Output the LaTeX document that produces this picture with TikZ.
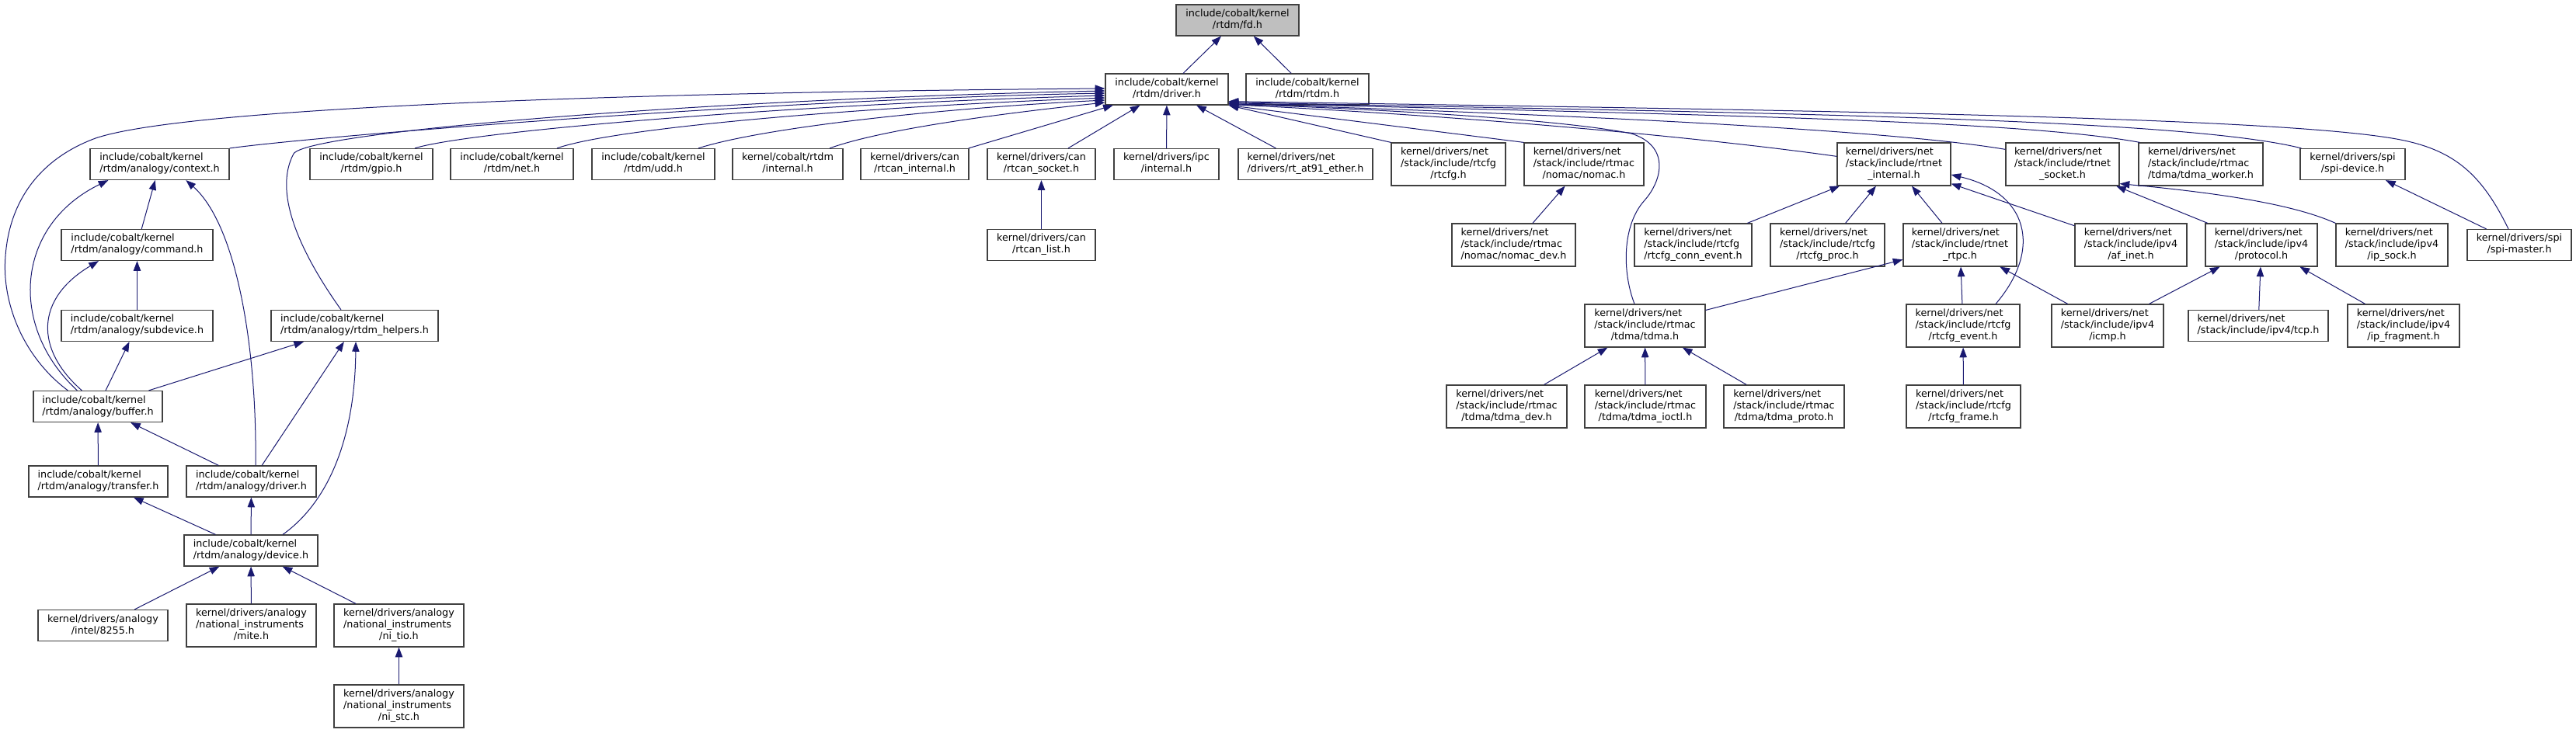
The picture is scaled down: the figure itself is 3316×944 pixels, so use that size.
\documentclass[tikz,border=0pt]{standalone}
\usepackage{fontspec}
\setmainfont{DejaVu Sans}
\usetikzlibrary{arrows.meta,calc}
\definecolor{midblue}{HTML}{191970}
\definecolor{rootgray}{HTML}{BFBFBF}
\definecolor{boxline}{HTML}{404040}
\newcommand\lbl[2]{\begin{tabular}{@{}l@{}}#1\\\multicolumn{1}{@{}c@{}}{#2}\end{tabular}}
\newcommand\fn[7][]{\node[filebox,#1,minimum width=#5*0.75pt,minimum height=#6*0.75pt] (#2) at (#3,#4) {#7};}
\tikzset{
  filebox/.style={rectangle,draw=boxline,line width=0.9pt,fill=white,inner sep=0pt,
    font=\fontsize{9.56}{11.25}\selectfont},
  link/.style={draw=midblue,line width=0.75pt,-{Triangle[length=9.5pt,width=7pt]}}
}
\begin{document}
\begin{tikzpicture}[x=0.75pt,y=-0.75pt]
\useasboundingbox[fill=white] (0,0) rectangle (3316,944);
% row 0
\fn[fill=rootgray]{fd}{1593}{26}{158}{40}{\lbl{include/cobalt/kernel}{/rtdm/fd.h}}
% row 1
\fn{drv}{1502}{115}{158}{40}{\lbl{include/cobalt/kernel}{/rtdm/driver.h}}
\fn{rtdm}{1683}{115}{158}{40}{\lbl{include/cobalt/kernel}{/rtdm/rtdm.h}}
% row 2
\fn{ctx}{205.5}{211.5}{179}{40}{\lbl{include/cobalt/kernel}{/rtdm/analogy/context.h}}
\fn{gpio}{478}{211.5}{158}{40}{\lbl{include/cobalt/kernel}{/rtdm/gpio.h}}
\fn{net}{659}{211.5}{158}{40}{\lbl{include/cobalt/kernel}{/rtdm/net.h}}
\fn{udd}{841}{211.5}{158}{40}{\lbl{include/cobalt/kernel}{/rtdm/udd.h}}
\fn{cint}{1014}{211.5}{142}{40}{\lbl{kernel/cobalt/rtdm}{/internal.h}}
\fn{rcint}{1177.5}{211.5}{139}{40}{\lbl{kernel/drivers/can}{/rtcan\_internal.h}}
\fn{rcsock}{1340.5}{211.5}{139}{40}{\lbl{kernel/drivers/can}{/rtcan\_socket.h}}
\fn{ipc}{1501.5}{211.5}{135}{40}{\lbl{kernel/drivers/ipc}{/internal.h}}
\fn{at91}{1680.5}{211.5}{173}{40}{\lbl{kernel/drivers/net}{/drivers/rt\_at91\_ether.h}}
\fn{rtcfg}{1864.5}{211.5}{147}{55}{\lbl{kernel/drivers/net\\/stack/include/rtcfg}{/rtcfg.h}}
\fn{nomac}{2039}{211.5}{154}{55}{\lbl{kernel/drivers/net\\/stack/include/rtmac}{/nomac/nomac.h}}
\fn{rnint}{2438}{211.5}{146}{55}{\lbl{kernel/drivers/net\\/stack/include/rtnet}{\_internal.h}}
\fn{rnsock}{2655}{211.5}{146}{55}{\lbl{kernel/drivers/net\\/stack/include/rtnet}{\_socket.h}}
\fn{tdmaw}{2833}{211.5}{160}{55}{\lbl{kernel/drivers/net\\/stack/include/rtmac}{/tdma/tdma\_worker.h}}
\fn{spidev}{3028.5}{211.5}{135}{40}{\lbl{kernel/drivers/spi}{/spi-device.h}}
% row 3
\fn{cmd}{176.5}{315.5}{195}{40}{\lbl{include/cobalt/kernel}{/rtdm/analogy/command.h}}
\fn{rclist}{1340.5}{315.5}{139}{40}{\lbl{kernel/drivers/can}{/rtcan\_list.h}}
\fn{nomacdev}{1948.5}{315.5}{159}{55}{\lbl{kernel/drivers/net\\/stack/include/rtmac}{/nomac/nomac\_dev.h}}
\fn{connev}{2179.5}{315.5}{151}{55}{\lbl{kernel/drivers/net\\/stack/include/rtcfg}{/rtcfg\_conn\_event.h}}
\fn{proc}{2352.5}{315.5}{147}{55}{\lbl{kernel/drivers/net\\/stack/include/rtcfg}{/rtcfg\_proc.h}}
\fn{rtpc}{2523}{315.5}{146}{55}{\lbl{kernel/drivers/net\\/stack/include/rtnet}{\_rtpc.h}}
\fn{afinet}{2743}{315.5}{144}{55}{\lbl{kernel/drivers/net\\/stack/include/ipv4}{/af\_inet.h}}
\fn{proto}{2911}{315.5}{144}{55}{\lbl{kernel/drivers/net\\/stack/include/ipv4}{/protocol.h}}
\fn{ipsock}{3079}{315.5}{144}{55}{\lbl{kernel/drivers/net\\/stack/include/ipv4}{/ip\_sock.h}}
\fn{spimaster}{3243}{315.5}{134}{40}{\lbl{kernel/drivers/spi}{/spi-master.h}}
% row 4
\fn{subdev}{176.5}{419.5}{195}{40}{\lbl{include/cobalt/kernel}{/rtdm/analogy/subdevice.h}}
\fn{helpers}{456.5}{419.5}{215}{40}{\lbl{include/cobalt/kernel}{/rtdm/analogy/rtdm\_helpers.h}}
\fn{tdma}{2117.5}{419.5}{155}{55}{\lbl{kernel/drivers/net\\/stack/include/rtmac}{/tdma/tdma.h}}
\fn{rtcfgev}{2527}{419.5}{146}{55}{\lbl{kernel/drivers/net\\/stack/include/rtcfg}{/rtcfg\_event.h}}
\fn{icmp}{2713}{419.5}{144}{55}{\lbl{kernel/drivers/net\\/stack/include/ipv4}{/icmp.h}}
\fn{tcp}{2907}{419.5}{180}{40}{\lbl{kernel/drivers/net}{/stack/include/ipv4/tcp.h}}
\fn{ipfrag}{3094}{419.5}{144}{55}{\lbl{kernel/drivers/net\\/stack/include/ipv4}{/ip\_fragment.h}}
% row 5
\fn{buffer}{126}{523.5}{166}{40}{\lbl{include/cobalt/kernel}{/rtdm/analogy/buffer.h}}
\fn{tdmadev}{1939.5}{523.5}{155}{55}{\lbl{kernel/drivers/net\\/stack/include/rtmac}{/tdma/tdma\_dev.h}}
\fn{tdmaioctl}{2118}{523.5}{156}{55}{\lbl{kernel/drivers/net\\/stack/include/rtmac}{/tdma/tdma\_ioctl.h}}
\fn{tdmaproto}{2296.5}{523.5}{155}{55}{\lbl{kernel/drivers/net\\/stack/include/rtmac}{/tdma/tdma\_proto.h}}
\fn{rtcfgframe}{2527.5}{523.5}{147}{55}{\lbl{kernel/drivers/net\\/stack/include/rtcfg}{/rtcfg\_frame.h}}
% row 6
\fn{transfer}{126.5}{620}{179}{40}{\lbl{include/cobalt/kernel}{/rtdm/analogy/transfer.h}}
\fn{adrv}{323.5}{620}{167}{40}{\lbl{include/cobalt/kernel}{/rtdm/analogy/driver.h}}
% row 7
\fn{device}{323}{709}{172}{40}{\lbl{include/cobalt/kernel}{/rtdm/analogy/device.h}}
% row 8
\fn{i8255}{132.5}{805.5}{167}{40}{\lbl{kernel/drivers/analogy}{/intel/8255.h}}
\fn{mite}{323.5}{805.5}{167}{55}{\lbl{kernel/drivers/analogy\\/national\_instruments}{/mite.h}}
\fn{nitio}{513.5}{805.5}{167}{55}{\lbl{kernel/drivers/analogy\\/national\_instruments}{/ni\_tio.h}}
% row 9
\fn{nistc}{513.5}{909.5}{167}{55}{\lbl{kernel/drivers/analogy\\/national\_instruments}{/ni\_stc.h}}

% ---- edges to fd.h
\draw[link] (drv) -- (fd);
\draw[link] (rtdm) -- (fd);
% ---- edges to driver.h from the left
\draw[link] ($(buffer.north west)+(45,0)$) .. controls (30,460) and (2,390) .. (7,330)
  .. controls (12,260) and (50,205) .. (123,178) .. controls (250,135) and (900,118) .. ($(drv.west)+(0,-1)$);
\draw[link] ($(helpers.north)+(-17.5,0)$) .. controls (390,330) and (350,250) .. (378,198)
  .. controls (395,170) and (900,128) .. ($(drv.west)+(0,2)$);
\draw[link] (ctx.north east) .. controls (420,174) and (1000,128) .. ($(drv.west)+(0,5)$);
\draw[link] ($(gpio.north)+(56,0)$) .. controls (600,170) and (1000,135) .. ($(drv.west)+(0,8)$);
\draw[link] ($(net.north)+(58,0)$) .. controls (790,165) and (1100,138) .. ($(drv.west)+(0,11)$);
\draw[link] ($(udd.north)+(58,0)$) .. controls (980,165) and (1200,140) .. ($(drv.west)+(0,14)$);
\draw[link] ($(cint.north)+(54,0)$) .. controls (1140,165) and (1300,145) .. ($(drv.west)+(0,17)$);
\draw[link] (rcint) -- (drv);
\draw[link] (rcsock) -- (drv);
\draw[link] (ipc) -- (drv);
\draw[link] (at91) -- (drv);
% ---- edges to driver.h from the right
\draw[link] (rtcfg.north west) -- (drv.south east);
\draw[link] (nomac.north west) -- (drv.south east);
\draw[link] ($(rnint.north west)+(0,18)$) .. controls (2200,178) and (1900,150) .. ($(drv.south east)+(0,-1)$);
\draw[link] ($(rnsock.north west)+(0,9)$) .. controls (2450,170) and (2100,150) .. ($(drv.south east)+(0,-2)$);
\draw[link] ($(tdmaw.north west)+(2,0)$) .. controls (2600,155) and (2200,148) .. ($(drv.south east)+(0,-3)$);
\draw[link] ($(spidev.north west)+(2,0)$) .. controls (2800,150) and (2200,145) .. ($(drv.south east)+(0,-4)$);
\draw[link] ($(spimaster.north)+(-14,0)$) .. controls (3195,225) and (3160,195) .. (3095,181)
  .. controls (2950,150) and (2300,142) .. ($(drv.south east)+(0,-5)$);
\draw[link] ($(tdma.north)+(-13.5,0)$) .. controls (2088,350) and (2088,290) .. (2117,258)
  .. controls (2140,232) and (2150,188) .. (2100,172) .. controls (2000,152) and (1750,140) .. ($(drv.south east)+(0,-2)$);
% ---- analogy part
\draw[link] (rclist) -- (rcsock);
\draw[link] (cmd) -- (ctx);
\draw[link] (subdev) -- (cmd);
\draw[link] (buffer) -- (subdev);
\draw[link] (buffer) -- (helpers);
\draw[link] ($(buffer.north west)+(57,0)$) .. controls (10,420) and (20,290) .. ($(ctx.south west)+(24,0)$);
\draw[link] ($(buffer.north west)+(63,0)$) .. controls (45,450) and (45,385) .. ($(cmd.south)+(-49.5,0)$);
\draw[link] ($(adrv.north)+(5.5,0)$) .. controls (331,450) and (305,290) .. ($(ctx.south west)+(124,0)$);
\draw[link] (adrv) -- (helpers);
\draw[link] (adrv) -- (buffer);
\draw[link] (transfer) -- (buffer);
\draw[link] (device) -- (transfer);
\draw[link] (device) -- (adrv);
\draw[link] ($(device.north)+(41,0)$) .. controls (425,645) and (457,560) .. ($(helpers.south)+(1.5,0)$);
\draw[link] (i8255) -- (device);
\draw[link] (mite) -- (device);
\draw[link] (nitio) -- (device);
\draw[link] (nistc) -- (nitio);
% ---- net part
\draw[link] (nomacdev) -- (nomac);
\draw[link] (connev) -- (rnint);
\draw[link] (proc) -- (rnint);
\draw[link] (rtpc) -- (rnint);
\draw[link] (afinet) -- (rnint);
\draw[link] ($(rtcfgev.north)+(42,0)$) .. controls (2630,320) and (2610,248) .. ($(rnint.east)+(0,13.5)$);
\draw[link] (tdma) -- (rtpc);
\draw[link] (rtcfgev) -- (rtpc);
\draw[link] (icmp) -- (rtpc);
\draw[link] (tdmadev) -- (tdma);
\draw[link] (tdmaioctl) -- (tdma);
\draw[link] (tdmaproto) -- (tdma);
\draw[link] (rtcfgframe) -- (rtcfgev);
\draw[link] (proto) -- (rnsock);
\draw[link] (ipsock.north west) .. controls (2950,262) and (2850,248) .. ($(rnsock.south east)+(0,-3)$);
\draw[link] (icmp) -- (proto);
\draw[link] (tcp) -- (proto);
\draw[link] (ipfrag) -- (proto);
\draw[link] (spimaster) -- (spidev);
\end{tikzpicture}
\end{document}
